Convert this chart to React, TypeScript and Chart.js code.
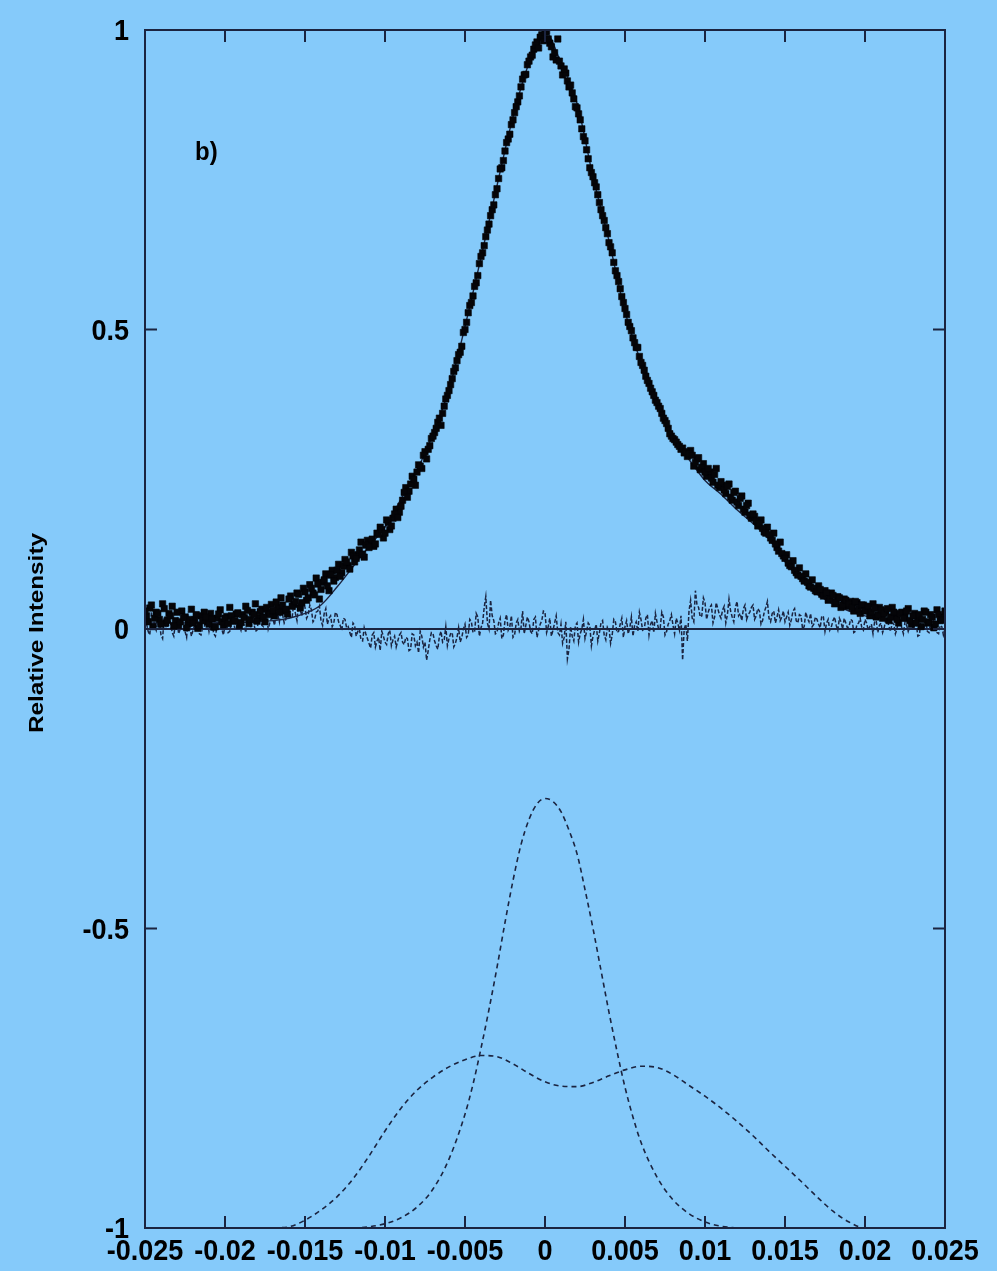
import React, { useEffect, useRef } from "react";
import { Chart, registerables } from "chart.js";

Chart.register(...registerables);

// Axis ranges and tick labels
const X_MIN = -0.025;
const X_MAX = 0.025;
const Y_MIN = -1;
const Y_MAX = 1;
const X_TICKS = [-0.025, -0.02, -0.015, -0.01, -0.005, 0, 0.005, 0.01, 0.015, 0.02, 0.025];
const X_TICK_LABELS = ["-0.025", "-0.02", "-0.015", "-0.01", "-0.005", "0", "0.005", "0.01", "0.015", "0.02", "0.025"];
const Y_TICKS = [-1, -0.5, 0, 0.5, 1];
const Y_TICK_LABELS = ["-1", "-0.5", "0", "0.5", "1"];

// Measured profile, first pass: every 0.0002 from -0.025 to 0.025
const SCAN_A_START = -0.025;
const SCAN_STEP = 0.0002;
const MEASURED_A = [
  0.030, 0.012, 0.040, 0.018, 0.026, 0.008, 0.034, 0.015, 0.022, 0.005,
  0.028, 0.012, 0.019, 0.002, 0.016, 0.010, 0.024, 0.006, 0.014, 0.020,
  0.008, 0.017, 0.004, 0.025, 0.012, 0.018, 0.009, 0.022, 0.014, 0.027,
  0.011, 0.019, 0.031, 0.016, 0.024, 0.013, 0.029, 0.020, 0.036, 0.024,
  0.031, 0.045, 0.028, 0.040, 0.033, 0.050, 0.038, 0.046, 0.058, 0.044,
  0.062, 0.052, 0.068, 0.057, 0.075, 0.066, 0.082, 0.072, 0.090, 0.080,
  0.098, 0.088, 0.105, 0.112, 0.100, 0.122, 0.118, 0.132, 0.125, 0.140,
  0.136, 0.150, 0.142, 0.158, 0.166, 0.160, 0.178, 0.172, 0.192, 0.186,
  0.205, 0.228, 0.220, 0.242, 0.250, 0.262, 0.272, 0.290, 0.284, 0.306,
  0.322, 0.335, 0.352, 0.360, 0.384, 0.398, 0.418, 0.436, 0.458, 0.472,
  0.500, 0.528, 0.545, 0.572, 0.590, 0.622, 0.640, 0.666, 0.690, 0.708,
  0.735, 0.768, 0.782, 0.812, 0.826, 0.850, 0.872, 0.890, 0.918, 0.926,
  0.948, 0.958, 0.975, 0.970, 0.992, 0.996, 0.985, 0.972, 0.962, 0.985,
  0.940, 0.935, 0.915, 0.908, 0.885, 0.870, 0.850, 0.822, 0.800, 0.770,
  0.755, 0.738, 0.712, 0.690, 0.670, 0.645, 0.628, 0.598, 0.580, 0.555,
  0.535, 0.512, 0.498, 0.478, 0.470, 0.445, 0.432, 0.415, 0.402, 0.390,
  0.378, 0.368, 0.352, 0.343, 0.326, 0.318, 0.312, 0.305, 0.302, 0.296,
  0.292, 0.290, 0.278, 0.286, 0.270, 0.262, 0.268, 0.252, 0.258, 0.240,
  0.246, 0.232, 0.238, 0.220, 0.228, 0.212, 0.218, 0.200, 0.206, 0.190,
  0.192, 0.180, 0.176, 0.168, 0.160, 0.158, 0.148, 0.142, 0.130, 0.126,
  0.118, 0.110, 0.104, 0.098, 0.090, 0.088, 0.080, 0.078, 0.070, 0.068,
  0.062, 0.066, 0.055, 0.060, 0.050, 0.056, 0.045, 0.052, 0.040, 0.048,
  0.042, 0.036, 0.046, 0.034, 0.040, 0.030, 0.038, 0.028, 0.035, 0.024,
  0.032, 0.026, 0.034, 0.020, 0.028, 0.016, 0.026, 0.018, 0.030, 0.014,
  0.022, 0.010, 0.024, 0.016, 0.028, 0.012, 0.020, 0.008, 0.024, 0.015,
  0.030,
];

// Measured profile, second pass: every 0.0002 from -0.0249 to 0.0249
const SCAN_B_START = -0.0249;
const MEASURED_B = [
  0.022, 0.035, 0.004, 0.028, 0.016, 0.042, 0.010, 0.026, 0.038, 0.014,
  0.006, 0.030, 0.020, 0.009, 0.033, 0.015, 0.001, 0.022, 0.028, 0.012,
  0.026, 0.003, 0.018, 0.032, 0.007, 0.021, 0.036, 0.013, 0.025, 0.006,
  0.024, 0.038, 0.009, 0.028, 0.042, 0.019, 0.033, 0.012, 0.027, 0.041,
  0.022, 0.036, 0.052, 0.030, 0.025, 0.055, 0.041, 0.060, 0.035, 0.068,
  0.048, 0.074, 0.060, 0.085, 0.050, 0.078, 0.092, 0.064, 0.098, 0.086,
  0.108, 0.094, 0.116, 0.106, 0.128, 0.112, 0.124, 0.145, 0.120, 0.148,
  0.144, 0.138, 0.160, 0.170, 0.152, 0.182, 0.166, 0.185, 0.200, 0.195,
  0.215, 0.236, 0.230, 0.255, 0.240, 0.274, 0.268, 0.296, 0.300, 0.318,
  0.328, 0.345, 0.340, 0.372, 0.390, 0.408, 0.430, 0.448, 0.462, 0.495,
  0.512, 0.540, 0.556, 0.578, 0.610, 0.628, 0.655, 0.676, 0.700, 0.725,
  0.752, 0.770, 0.798, 0.818, 0.842, 0.862, 0.880, 0.905, 0.925, 0.942,
  0.955, 0.968, 0.980, 0.988, 0.982, 0.998, 0.978, 0.955, 0.950, 0.948,
  0.925, 0.928, 0.905, 0.895, 0.872, 0.860, 0.835, 0.815, 0.785, 0.762,
  0.745, 0.725, 0.700, 0.682, 0.660, 0.638, 0.612, 0.590, 0.568, 0.545,
  0.525, 0.505, 0.486, 0.470, 0.455, 0.440, 0.422, 0.410, 0.396, 0.382,
  0.372, 0.360, 0.348, 0.335, 0.322, 0.316, 0.308, 0.300, 0.294, 0.288,
  0.298, 0.272, 0.284, 0.266, 0.276, 0.255, 0.262, 0.245, 0.268, 0.236,
  0.240, 0.226, 0.242, 0.215, 0.230, 0.206, 0.222, 0.195, 0.210, 0.185,
  0.188, 0.172, 0.182, 0.162, 0.170, 0.152, 0.160, 0.136, 0.145, 0.122,
  0.124, 0.106, 0.114, 0.094, 0.102, 0.084, 0.092, 0.072, 0.082, 0.064,
  0.072, 0.058, 0.064, 0.048, 0.060, 0.042, 0.054, 0.036, 0.050, 0.038,
  0.046, 0.030, 0.044, 0.026, 0.040, 0.032, 0.022, 0.042, 0.020, 0.036,
  0.018, 0.030, 0.014, 0.036, 0.022, 0.010, 0.028, 0.020, 0.034, 0.008,
  0.026, 0.018, 0.004, 0.030, 0.010, 0.024, 0.002, 0.032, 0.014, 0.020,
];

// Fit residuals on the first-pass grid
const RESIDUALS_A = [
  0.018, -0.004, 0.026, 0.006, 0.014, -0.010, 0.020, 0.002, 0.010, -0.012,
  0.016, 0.000, 0.008, -0.014, 0.004, -0.002, 0.012, -0.008, 0.002, 0.010,
  -0.004, 0.006, -0.012, 0.014, 0.000, 0.006, -0.006, 0.010, 0.002, 0.016,
  -0.002, 0.006, 0.018, 0.002, 0.010, -0.002, 0.014, 0.004, 0.022, 0.010,
  0.016, 0.030, 0.012, 0.024, 0.016, 0.034, 0.020, 0.026, 0.040, 0.022,
  0.036, 0.024, 0.032, 0.016, 0.030, 0.014, 0.026, 0.008, 0.022, 0.010,
  0.024, 0.006, 0.018, 0.002, -0.006, 0.010, -0.012, 0.000, -0.020, -0.008,
  -0.024, -0.010, -0.030, -0.014, -0.004, -0.022, -0.008, -0.028, -0.012, -0.020,
  -0.006, -0.026, -0.016, -0.034, -0.010, -0.022, -0.004, -0.030, -0.052, -0.018,
  -0.008, -0.028, -0.012, -0.022, 0.004, -0.016, -0.006, -0.024, 0.002, -0.014,
  0.008, -0.010, 0.012, -0.004, 0.020, 0.002, 0.036, 0.010, 0.048, 0.014,
  -0.006, 0.018, -0.010, 0.024, 0.004, -0.014, 0.010, -0.004, 0.030, 0.006,
  0.012, -0.008, 0.020, -0.002, 0.014, 0.028, 0.004, -0.012, 0.010, -0.006,
  0.008, -0.014, -0.050, 0.004, -0.020, 0.010, -0.008, 0.016, -0.004, 0.006,
  -0.012, 0.008, -0.006, 0.014, -0.018, 0.002, -0.010, 0.012, -0.004, 0.018,
  0.004, -0.008, 0.020, 0.006, -0.004, 0.016, 0.000, 0.024, 0.008, -0.006,
  0.012, 0.002, 0.020, -0.004, 0.014, 0.006, 0.018, -0.002, -0.052, 0.008,
  0.030, 0.018, 0.064, 0.036, 0.022, 0.044, 0.028, 0.040, 0.020, 0.034,
  0.018, 0.038, 0.024, 0.030, 0.012, 0.046, 0.026, 0.034, 0.016, 0.028,
  0.040, 0.022, 0.030, 0.014, 0.036, 0.018, 0.026, 0.010, 0.032, 0.020,
  0.012, 0.028, 0.016, 0.034, 0.010, 0.022, 0.004, 0.018, 0.026, 0.008,
  0.016, 0.002, 0.020, 0.010, -0.002, 0.014, 0.006, 0.018, 0.000, 0.010,
  0.004, 0.014, -0.004, 0.010, 0.002, 0.016, -0.002, 0.008, 0.012, -0.006,
  0.010, 0.002, 0.014, -0.004, 0.008, 0.000, 0.012, -0.008, 0.006, 0.004,
  -0.002, 0.010, -0.010, 0.006, 0.014, -0.006, 0.002, 0.012, -0.008, 0.004,
  0.000,
];

// Fit residuals on the second-pass grid
const RESIDUALS_B = [
  0.008, -0.010, 0.022, -0.002, 0.012, -0.016, 0.004, 0.018, -0.006, 0.010,
  -0.008, 0.014, -0.004, 0.020, -0.012, 0.006, 0.016, -0.010, 0.004, 0.012,
  0.010, -0.008, 0.004, 0.020, -0.010, 0.008, -0.004, 0.018, -0.002, 0.006,
  0.012, -0.006, 0.008, 0.024, -0.004, 0.016, 0.006, 0.026, 0.000, 0.018,
  0.006, 0.024, 0.038, 0.010, 0.028, 0.018, 0.044, 0.014, 0.032, 0.046,
  0.018, 0.040, 0.012, 0.028, 0.038, 0.006, 0.034, 0.018, 0.004, 0.028,
  0.012, -0.002, 0.016, 0.004, -0.014, 0.006, -0.004, -0.018, 0.002, -0.016,
  -0.032, -0.006, -0.020, -0.036, -0.012, -0.026, -0.002, -0.018, -0.030, -0.010,
  -0.022, -0.014, -0.036, -0.008, -0.028, -0.040, -0.012, -0.022, -0.036, -0.006,
  -0.020, -0.034, -0.004, -0.018, -0.028, -0.008, -0.030, -0.014, -0.022, 0.000,
  -0.014, 0.016, -0.006, 0.026, -0.012, 0.010, 0.054, 0.000, 0.022, -0.008,
  0.010, -0.016, 0.014, -0.002, 0.022, -0.010, 0.016, 0.002, -0.008, 0.020,
  -0.004, 0.016, -0.014, 0.008, 0.030, -0.006, 0.018, -0.002, 0.022, -0.010,
  -0.024, 0.012, -0.034, -0.012, 0.006, -0.022, 0.000, -0.016, 0.010, -0.028,
  -0.002, -0.020, 0.010, -0.010, 0.004, -0.024, 0.016, -0.006, 0.008, -0.014,
  0.014, 0.002, -0.012, 0.012, 0.028, -0.002, 0.018, -0.010, 0.014, 0.026,
  0.000, 0.028, -0.010, 0.008, 0.024, -0.008, 0.010, 0.022, 0.000, -0.020,
  0.048, 0.012, 0.040, 0.020, 0.052, 0.016, 0.036, 0.010, 0.044, 0.024,
  0.032, 0.010, 0.050, 0.020, 0.036, 0.022, 0.014, 0.040, 0.024, 0.036,
  0.016, 0.034, 0.008, 0.028, 0.046, 0.012, 0.030, 0.020, 0.014, 0.030,
  0.020, 0.006, 0.030, 0.014, 0.024, 0.000, 0.028, 0.012, 0.004, 0.020,
  0.008, 0.022, -0.004, 0.016, 0.004, 0.020, -0.002, 0.012, 0.018, 0.002,
  0.016, -0.006, 0.008, 0.018, -0.002, 0.010, 0.004, -0.008, 0.014, 0.006,
  -0.006, 0.016, 0.004, 0.010, -0.008, 0.018, 0.002, 0.012, -0.004, 0.014,
  0.008, -0.012, 0.016, 0.000, -0.004, 0.010, 0.018, -0.006, 0.006, -0.010,
];

// Fitted profile, every 0.001 from -0.025 to 0.025
const FIT_START = -0.025;
const FIT_STEP = 0.001;
const FIT = [
  0.010, 0.010, 0.010, 0.010, 0.010, 0.011, 0.011, 0.012, 0.014, 0.018,
  0.026, 0.040, 0.070, 0.104, 0.138, 0.170, 0.217, 0.265, 0.325, 0.400,
  0.505, 0.620, 0.740, 0.855, 0.945, 0.997, 0.945, 0.878, 0.755, 0.648,
  0.530, 0.445, 0.375, 0.318, 0.283, 0.248, 0.225, 0.199, 0.176, 0.150,
  0.112, 0.082, 0.058, 0.042, 0.030, 0.022, 0.018, 0.015, 0.013, 0.012,
  0.011,
];

// Narrow component (dashed)
const NARROW_X = [
  -0.012, -0.011, -0.010, -0.009, -0.008, -0.007, -0.006, -0.005, -0.0045, -0.004,
  -0.0035, -0.003, -0.0025, -0.002, -0.0015, -0.001, -0.0005, 0.0, 0.0005, 0.001,
  0.0015, 0.002, 0.0025, 0.003, 0.0035, 0.004, 0.0045, 0.005, 0.0055, 0.006,
  0.007, 0.008, 0.009, 0.010, 0.011, 0.012,
];
const NARROW_Y = [
  -1.0, -0.998, -0.993, -0.983, -0.965, -0.935, -0.885, -0.81, -0.76, -0.70,
  -0.635, -0.565, -0.49, -0.42, -0.36, -0.318, -0.292, -0.283, -0.288, -0.305,
  -0.336, -0.375, -0.435, -0.50, -0.57, -0.64, -0.705, -0.765, -0.815, -0.857,
  -0.915, -0.953, -0.976, -0.99, -0.997, -1.0,
];

// Broad two-peaked component (dashed)
const BROAD_X = [
  -0.017, -0.016, -0.015, -0.014, -0.013, -0.012, -0.011, -0.010, -0.009, -0.008,
  -0.007, -0.006, -0.005, -0.004, -0.003, -0.002, -0.001, 0.0, 0.001, 0.002,
  0.003, 0.004, 0.005, 0.006, 0.007, 0.008, 0.009, 0.010, 0.011, 0.012,
  0.013, 0.014, 0.015, 0.016, 0.017, 0.018, 0.019, 0.020, 0.021,
];
const BROAD_Y = [
  -1.0, -0.998, -0.987, -0.970, -0.948, -0.918, -0.880, -0.838, -0.800, -0.770,
  -0.748, -0.731, -0.719, -0.712, -0.714, -0.726, -0.742, -0.756, -0.763, -0.764,
  -0.757, -0.746, -0.736, -0.730, -0.732, -0.744, -0.762, -0.780, -0.800, -0.822,
  -0.846, -0.872, -0.897, -0.922, -0.948, -0.972, -0.990, -1.0, -1.0,
];

const BG = "#85cafa";
const INK = "#1b2440";
const FONT = "'Liberation Sans', Arial, Helvetica, sans-serif";

const W = 997;
const H = 1271;

const framePlugin = {
  id: "frame",
  beforeDraw(chart: any) {
    const ctx = chart.ctx;
    ctx.save();
    ctx.fillStyle = BG;
    ctx.fillRect(0, 0, chart.width, chart.height);
    ctx.restore();
  },
  beforeDatasetsDraw(chart: any) {
    const { ctx, chartArea } = chart;
    const y0 = chart.scales.y.getPixelForValue(0);
    ctx.save();
    ctx.strokeStyle = INK;
    ctx.lineWidth = 1.8;
    ctx.beginPath();
    ctx.moveTo(chartArea.left, y0);
    ctx.lineTo(chartArea.right, y0);
    ctx.stroke();
    ctx.restore();
  },
  afterDatasetsDraw(chart: any) {
    const { ctx, chartArea } = chart;
    const { left, right, top, bottom } = chartArea;
    const xs = chart.scales.x;
    const ys = chart.scales.y;
    const tick = 12;
    ctx.save();
    ctx.strokeStyle = INK;
    ctx.lineWidth = 2;
    ctx.strokeRect(left, top, right - left, bottom - top);

    ctx.beginPath();
    X_TICKS.forEach((v) => {
      const px = xs.getPixelForValue(v);
      ctx.moveTo(px, bottom);
      ctx.lineTo(px, bottom - tick);
      ctx.moveTo(px, top);
      ctx.lineTo(px, top + tick);
    });
    Y_TICKS.forEach((v) => {
      const py = ys.getPixelForValue(v);
      ctx.moveTo(left, py);
      ctx.lineTo(left + tick, py);
      ctx.moveTo(right, py);
      ctx.lineTo(right - tick, py);
    });
    ctx.stroke();

    // tick labels, slightly tall letterforms
    ctx.fillStyle = "#000";
    ctx.font = `bold 27px ${FONT}`;
    ctx.textBaseline = "alphabetic";
    X_TICKS.forEach((v, i) => {
      ctx.save();
      ctx.translate(xs.getPixelForValue(v), bottom + 32);
      ctx.scale(1, 1.1);
      ctx.textAlign = "center";
      ctx.fillText(X_TICK_LABELS[i], 0, 0);
      ctx.restore();
    });
    Y_TICKS.forEach((v, i) => {
      ctx.save();
      ctx.translate(left - 16, ys.getPixelForValue(v) + 10);
      ctx.scale(1, 1.1);
      ctx.textAlign = "right";
      ctx.fillText(Y_TICK_LABELS[i], 0, 0);
      ctx.restore();
    });

    // panel tag
    ctx.save();
    ctx.font = `bold 24px ${FONT}`;
    ctx.textAlign = "left";
    ctx.translate(195, 160);
    ctx.scale(1, 1.1);
    ctx.fillText("b)", 0, 0);
    ctx.restore();

    // y axis title, rotated
    ctx.save();
    ctx.font = `bold 21px ${FONT}`;
    const title = "Relative Intensity";
    const tw = ctx.measureText(title).width;
    ctx.translate(43, 633);
    ctx.rotate(-Math.PI / 2);
    ctx.scale(200 / tw, 1);
    ctx.textAlign = "center";
    ctx.fillText(title, 0, 0);
    ctx.restore();

    ctx.restore();
  },
};

export default function App() {
  const ref = useRef<HTMLCanvasElement | null>(null);

  useEffect(() => {
    document.body.style.margin = "0";
    document.body.style.background = BG;
    const canvas = ref.current;
    if (!canvas) return;

    const passA = MEASURED_A.map((y, i) => ({ x: SCAN_A_START + i * SCAN_STEP, y }));
    const passB = MEASURED_B.map((y, i) => ({ x: SCAN_B_START + i * SCAN_STEP, y }));
    const residuals = [
      ...RESIDUALS_A.map((y, i) => ({ x: SCAN_A_START + i * SCAN_STEP, y })),
      ...RESIDUALS_B.map((y, i) => ({ x: SCAN_B_START + i * SCAN_STEP, y })),
    ].sort((a, b) => a.x - b.x);
    const fit = FIT.map((y, i) => ({ x: FIT_START + i * FIT_STEP, y }));
    const narrow = NARROW_X.map((x, i) => ({ x, y: NARROW_Y[i] }));
    const broad = BROAD_X.map((x, i) => ({ x, y: BROAD_Y[i] }));

    const pointStyle = {
      showLine: false,
      pointStyle: "rect",
      pointRadius: 4.5,
      pointBorderWidth: 0.6,
      pointBackgroundColor: "#050508",
      pointBorderColor: "#050508",
    };

    const chart = new Chart(canvas, {
      type: "scatter",
      data: {
        datasets: [
          { label: "measured", data: passA, ...pointStyle },
          { label: "measured (2)", data: passB, ...pointStyle },
          {
            label: "fit",
            data: fit,
            showLine: true,
            pointRadius: 0,
            borderColor: INK,
            borderWidth: 1.4,
            cubicInterpolationMode: "monotone",
          },
          {
            label: "residual",
            data: residuals,
            showLine: true,
            pointRadius: 0,
            borderColor: INK,
            borderWidth: 1.5,
            borderDash: [4, 2],
          },
          {
            label: "narrow",
            data: narrow,
            showLine: true,
            pointRadius: 0,
            borderColor: INK,
            borderWidth: 1.6,
            borderDash: [5, 4],
            cubicInterpolationMode: "monotone",
          },
          {
            label: "broad",
            data: broad,
            showLine: true,
            pointRadius: 0,
            borderColor: INK,
            borderWidth: 1.6,
            borderDash: [5, 4],
            cubicInterpolationMode: "monotone",
          },
        ],
      },
      options: {
        animation: false,
        responsive: false,
        devicePixelRatio: 1,
        layout: { padding: { left: 145, right: 52, top: 30, bottom: 43 } },
        plugins: { legend: { display: false }, tooltip: { enabled: false } },
        scales: {
          x: { type: "linear", display: false, min: X_MIN, max: X_MAX },
          y: { type: "linear", display: false, min: Y_MIN, max: Y_MAX },
        },
      },
      plugins: [framePlugin],
    });

    return () => chart.destroy();
  }, []);

  return (
    <div style={{ width: W, height: H, background: BG }}>
      <canvas ref={ref} width={W} height={H} style={{ display: "block" }} />
    </div>
  );
}
